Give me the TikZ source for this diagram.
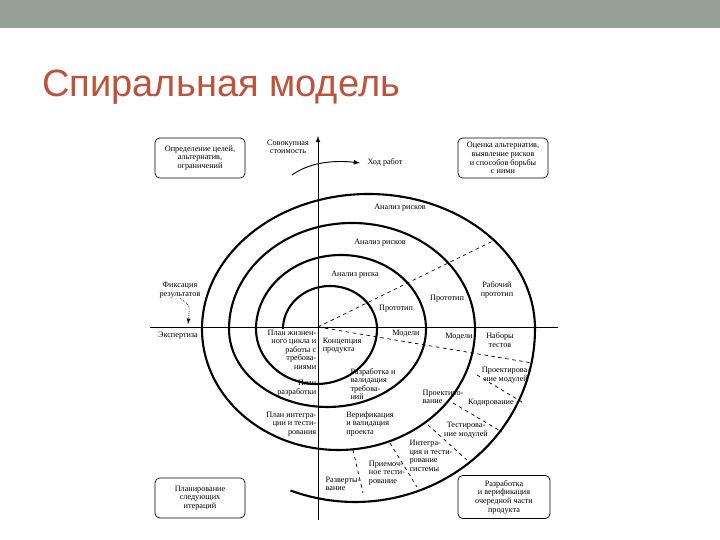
\documentclass[tikz,border=0pt]{standalone}
\usepackage{fontspec}
\setmainfont{Liberation Serif}
\newfontfamily\titlefont{Liberation Sans}
\begin{document}
\begin{tikzpicture}[x=0.03cm,y=0.03cm,
  lbl/.style={font=\fontsize{7}{7.3}\selectfont,inner sep=0.5pt,align=center},
  lblr/.style={lbl,align=right},
  box/.style={draw,rounded corners=4pt,line width=0.6pt,minimum width=90*0.03cm,minimum height=40*0.03cm,font=\fontsize{7}{7.4}\selectfont,align=center},
  spiral/.style={line width=1.8pt},
  dsh/.style={dashed,line width=0.6pt}]
\definecolor{bar}{RGB}{149,161,151}
\definecolor{ttl}{RGB}{190,82,60}
\useasboundingbox (0,0) rectangle (720,540);
\fill[bar] (0,512) rectangle (720,540);
\node[anchor=base west,text=ttl,font=\titlefont\fontsize{32.5}{36}\selectfont,inner sep=0] (title) at (42,443) {Спиральная модель};
% axes
\coordinate (O) at (318,213);
\coordinate (xl) at (150,213); \coordinate (xr) at (558,213);
\coordinate (yb) at (318,20); \coordinate (yt) at (318,404);
\draw[line width=0.7pt] (xl) -- (xr);
\draw[line width=0.8pt,-latex] (yb) -- (yt);
% spiral
\coordinate (s0) at (283,211);
\draw[spiral] (s0) arc[start angle=180,end angle=0,x radius=47,y radius=43]
  arc[start angle=0,end angle=-180,x radius=60.5,y radius=55]
  arc[start angle=180,end angle=0,x radius=85,y radius=74]
  arc[start angle=0,end angle=-180,x radius=98.5,y radius=78]
  arc[start angle=180,end angle=0,x radius=123,y radius=106]
  arc[start angle=0,end angle=-180,x radius=136.5,y radius=121]
  arc[start angle=180,end angle=0,x radius=166.5,y radius=135]
  arc[start angle=0,end angle=-111,x radius=180,y radius=173];
% dashed
\coordinate (d1) at (495,300); \coordinate (d2) at (532,177);
\draw[dsh] (O) -- (d1);
\draw[dsh] (O) -- (d2);
\coordinate (a1) at (477,165); \coordinate (a2) at (522,138);
\coordinate (b1) at (453,137); \coordinate (b2) at (502,108);
\coordinate (c1) at (428,115); \coordinate (c2) at (467,80);
\coordinate (e1) at (390,97); \coordinate (e2) at (417,53);
\coordinate (f1) at (353,90); \coordinate (f2) at (363,47);
\draw[dsh] (a1)--(a2); \draw[dsh] (b1)--(b2); \draw[dsh] (c1)--(c2);
\draw[dsh] (e1)--(e2); \draw[dsh] (f1)--(f2);
% arrows
\coordinate (h1) at (292,365); \coordinate (h2) at (360,377);
\draw[line width=0.8pt,-latex] (h1) .. controls (310,378) and (335,380) .. (h2);
\node[lbl] (fix) at (180,250) {Фиксация\\результатов};
\coordinate (f3) at (188,216);
\draw[densely dotted,line width=0.6pt,-latex] (fix.south) .. controls (190,235) .. (f3);
% boxes
\node[box] (b1n) at (200,382) {Определение целей,\\альтернатив,\\ограничений};
\node[box] (b2n) at (503,382) {Оценка альтернатив,\\выявление рисков\\и способов борьбы\\с ними};
\node[box] (b3n) at (200,42) {Планирование\\следующих\\итераций};
\node[box,minimum width=92*0.03cm,minimum height=43*0.03cm] (b4n) at (504,43) {Разработка\\и верификация\\очередной части\\продукта};
% labels
\node[lbl] (t1) at (288,393) {Совокупная\\стоимость};
\node[lbl] (t2) at (385,378) {Ход работ};
\node[lbl] (t3) at (400,332) {Анализ рисков};
\node[lbl] (t4) at (380,297) {Анализ рисков};
\node[lbl] (t5) at (355,265) {Анализ риска};
\node[lbl] (t6) at (396,231) {Прототип};
\node[lbl] (t7) at (447,241) {Прототип};
\node[lbl] (t8) at (497,250) {Рабочий\\прототип};
\node[lbl] (t9) at (178,204) {Экспертиза};
\node[lblr,anchor=north east] (t10) at (317,211) {План жизнен-\\ного цикла и\\работы с\\требова-\\ниями};
\node[lbl,align=left,anchor=north west] (t11) at (322,203) {Концепция\\продукта};
\node[lbl] (t12) at (406,206) {Модели};
\node[lbl] (t13) at (459,203) {Модели};
\node[lbl] (t14) at (500,200) {Наборы\\тестов};
\node[lbl,align=left] (t15) at (373,156) {Разработка и\\валидация\\требова-\\ний};
\node[lblr,anchor=east] (t16) at (317,152) {План\\разработки};
\node[lbl,align=left] (t17) at (443,143) {Проектиро-\\вание};
\node[lbl] (t18) at (506,165) {Проектирова-\\ние модулей};
\node[lbl] (t19) at (491,137) {Кодирование};
\node[lbl] (t20) at (466,110) {Тестирова-\\ние модулей};
\node[lblr,anchor=east] (t21) at (317,116) {План интегра-\\ции и тести-\\рования};
\node[lbl,align=left] (t22) at (370,116) {Верификация\\и валидация\\проекта};
\node[lbl,align=left] (t23) at (431,84) {Интегра-\\ция и тести-\\рование\\системы};
\node[lbl,align=left] (t24) at (387,67) {Приемоч-\\ное тести-\\рование};
\node[lbl,align=left] (t25) at (343,56) {Разверты-\\вание};
\end{tikzpicture}
\end{document}
